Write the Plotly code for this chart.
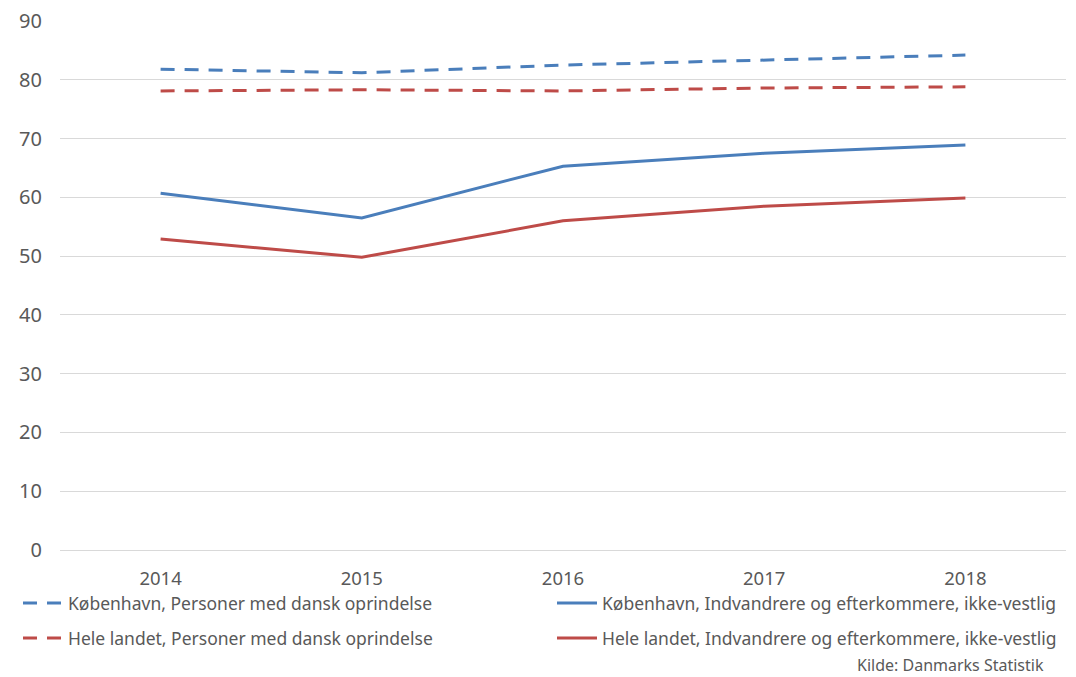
import plotly.graph_objects as go

years = ["2014", "2015", "2016", "2017", "2018"]
kbh_dansk = [81.8, 81.2, 82.5, 83.4, 84.2]
kbh_ikkevest = [60.7, 56.5, 65.3, 67.5, 68.9]
hele_dansk = [78.1, 78.3, 78.1, 78.6, 78.8]
hele_ikkevest = [52.9, 49.8, 56.0, 58.5, 59.9]
y_ticks = [0, 10, 20, 30, 40, 50, 60, 70, 80, 90]

BLUE = "#4a7ebb"
RED = "#be4b48"
TXT = "#595959"
FONT = "Noto Sans"

# page body has an 8px default margin, so figure coords = screen coords - 8
OFF = 8
W, H = 1076, 677
PL, PR, PT, PB = 60 - OFF, 1066 - OFF, 21 - OFF, 550 - OFF
pw, ph = PR - PL, PB - PT

def px_x(x):
    return (x - OFF - PL) / pw

def px_y(y):
    return (PB - (y - OFF)) / ph

fig = go.Figure()
fig.add_trace(go.Scatter(x=years, y=kbh_dansk, mode="lines",
                         name="København, Personer med dansk oprindelse",
                         line=dict(color=BLUE, width=3, dash="14px,10px"), legend="legend"))
fig.add_trace(go.Scatter(x=years, y=kbh_ikkevest, mode="lines",
                         name="København, Indvandrere og efterkommere, ikke-vestlig",
                         line=dict(color=BLUE, width=3), legend="legend2"))
fig.add_trace(go.Scatter(x=years, y=hele_dansk, mode="lines",
                         name="Hele landet, Personer med dansk oprindelse",
                         line=dict(color=RED, width=3, dash="14px,10px"), legend="legend3"))
fig.add_trace(go.Scatter(x=years, y=hele_ikkevest, mode="lines",
                         name="Hele landet, Indvandrere og efterkommere, ikke-vestlig",
                         line=dict(color=RED, width=3), legend="legend4"))

leg_common = dict(orientation="h", xanchor="left", yanchor="middle",
                  font=dict(size=17.5, color=TXT, family=FONT), itemwidth=40,
                  bgcolor="rgba(0,0,0,0)")

fig.update_layout(
    width=W, height=H,
    margin=dict(l=PL, r=W - PR, t=PT, b=H - PB, autoexpand=False),
    plot_bgcolor="white", paper_bgcolor="white",
    font=dict(family=FONT, color=TXT, size=16),
    showlegend=True,
    legend=dict(x=px_x(18), y=px_y(603), **leg_common),
    legend2=dict(x=px_x(552), y=px_y(603), **leg_common),
    legend3=dict(x=px_x(18), y=px_y(638), **leg_common),
    legend4=dict(x=px_x(552), y=px_y(638), **leg_common),
    xaxis=dict(type="category", range=[-0.5, 4.5], showgrid=False,
               showline=False, ticks="", tickfont=dict(size=18.5, color=TXT),
               ticklabelstandoff=15),
    yaxis=dict(range=[0, 90], tickvals=y_ticks, showgrid=True,
               gridcolor="#d9d9d9", gridwidth=1, zeroline=True,
               zerolinecolor="#d9d9d9", zerolinewidth=1,
               tickfont=dict(size=20, color=TXT), ticks="",
               ticklabelstandoff=17, ticklabeloverflow="allow"),
    annotations=[dict(text="Kilde: Danmarks Statistik", xref="paper", yref="paper",
                      x=px_x(1046), xanchor="right", y=px_y(665), yanchor="middle",
                      showarrow=False, font=dict(size=16, color=TXT))],
)

fig.write_html("out.html")
